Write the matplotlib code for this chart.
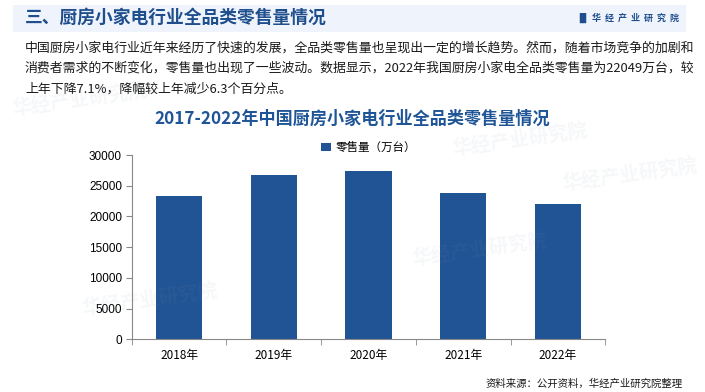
"""厨房小家电行业全品类零售量情况 (2018-2022)."""

import matplotlib.pyplot as plt
import numpy as np
from matplotlib.patches import Rectangle

plt.rcParams["font.family"] = ["Noto Sans CJK SC", "DejaVu Sans"]

years = ["2018年", "2019年", "2020年", "2021年", "2022年"]
retail_volume = [23300, 26700, 27350, 23800, 22049]
series_name = "零售量（万台）"

header = "三、厨房小家电行业全品类零售量情况"
brand = "华经产业研究院"
intro_lines = [
    "中国厨房小家电行业近年来经历了快速的发展，全品类零售量也呈现出一定的增长趋势。然而，随着市场竞争的加剧和",
    "消费者需求的不断变化，零售量也出现了一些波动。数据显示，2022年我国厨房小家电全品类零售量为22049万台，较",
    "上年下降7.1%，降幅较上年减少6.3个百分点。",
]
chart_title = "2017-2022年中国厨房小家电行业全品类零售量情况"
source = "资料来源：公开资料，华经产业研究院整理"

W, H = 705, 392
BAR = "#215494"
DARK = "#1F4E8C"


def fx(px):
    return px / W


def fy(py):
    return 1 - py / H


fig = plt.figure(figsize=(W / 100, H / 100), dpi=100)
fig.patch.set_facecolor("white")

# header band
fig.patches.append(Rectangle((fx(13), fy(32)), fx(686) - fx(13), fy(5) - fy(32),
                             transform=fig.transFigure, facecolor="#EFF4FC",
                             edgecolor="none", zorder=0))
fig.text(fx(25), fy(18), header, fontsize=12.8, fontweight="bold", color=DARK,
         va="center", ha="left")
fig.text(fx(575), fy(18), "▐▌", fontsize=7, color=DARK, va="center", ha="left",
         family=["DejaVu Sans"])
fig.text(fx(592), fy(18), "  ".join(brand), fontsize=6.5, fontweight="bold",
         color=DARK, va="center", ha="left")

# faint watermarks
for x, y in [(150, 300), (520, 140), (480, 250), (80, 100), (630, 175)]:
    fig.text(fx(x), fy(y), brand, fontsize=14, fontweight="bold", color="#8A9BB5",
             alpha=0.08, rotation=8, ha="center", va="center")

for i, line in enumerate(intro_lines):
    fig.text(fx(25), fy(48 + i * 20.5), line, fontsize=9.3, color="#1A1A1A",
             va="center", ha="left")

fig.text(fx(352), fy(119), chart_title, fontsize=12.3, fontweight="bold",
         color="#1F5597", ha="center", va="center")

ax = fig.add_axes([fx(131.7), fy(339.3), fx(605.3) - fx(131.7), fy(155) - fy(339.3)])
x = np.arange(len(years))
ax.bar(x, retail_volume, width=0.49, color=BAR, label=series_name, zorder=2)

ax.set_xlim(-0.5, len(years) - 0.5)
ax.set_ylim(0, 30000)
ax.set_yticks(np.arange(0, 30001, 5000))
ax.set_xticks(x)
ax.set_xticklabels(years)
ax.set_xticks(np.arange(-0.5, len(years), 1), minor=True)
ax.tick_params(axis="x", which="major", length=0, pad=7, labelsize=8.5)
ax.tick_params(axis="x", which="minor", length=4, color="#888888", direction="out")
ax.tick_params(axis="y", length=4, color="#888888", labelsize=8.5, pad=3)
for lab in ax.get_yticklabels():
    lab.set_family(["Liberation Sans", "DejaVu Sans"])

for side in ["top", "right"]:
    ax.spines[side].set_visible(False)
for side in ["left", "bottom"]:
    ax.spines[side].set_color("#888888")
    ax.spines[side].set_linewidth(0.8)
ax.patch.set_alpha(0)

ax.legend(loc="lower center", bbox_to_anchor=(0.5, 0.98), frameon=False,
          fontsize=8.3, handlelength=0.8, handleheight=0.8, handletextpad=0.4,
          borderaxespad=0)

fig.text(fx(683), fy(384), source, fontsize=7.5, color="#1A1A1A",
         ha="right", va="center")

fig.savefig("out.png", dpi=100)
